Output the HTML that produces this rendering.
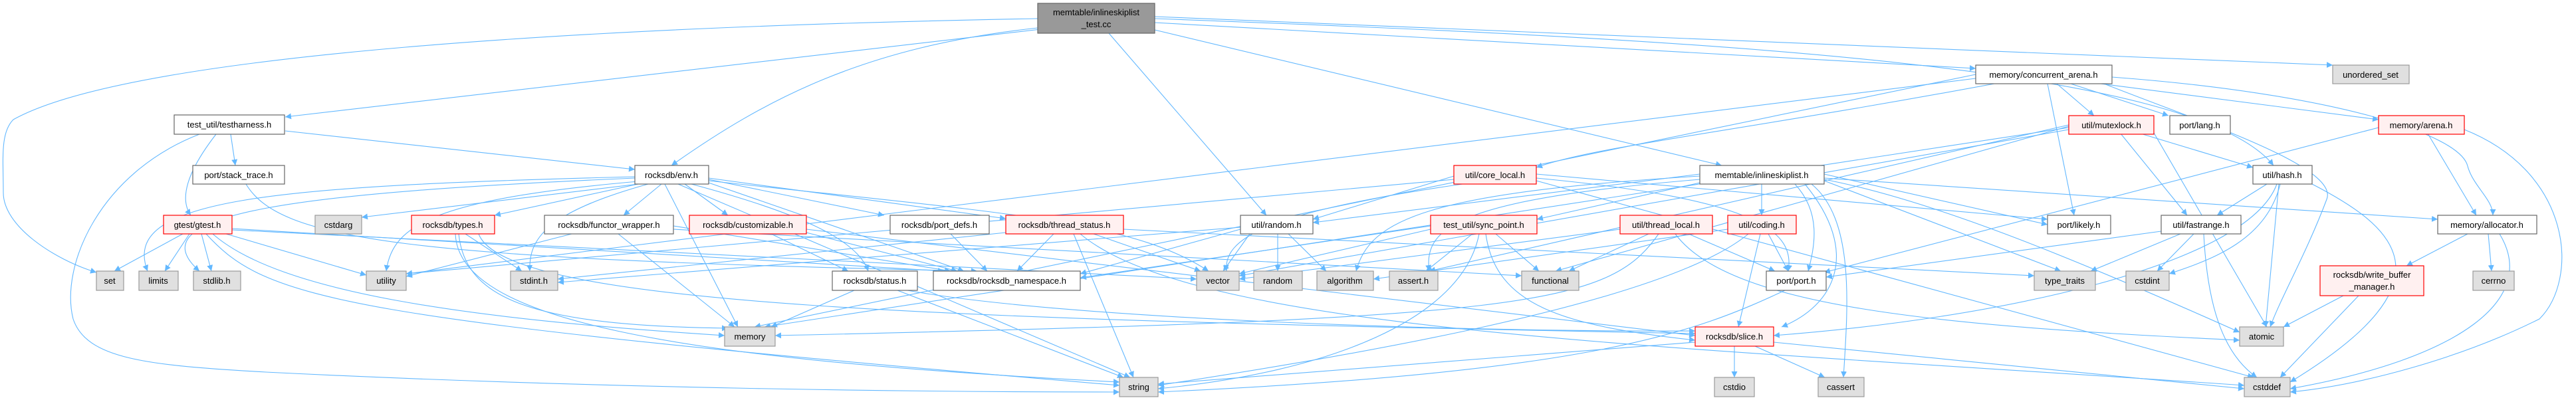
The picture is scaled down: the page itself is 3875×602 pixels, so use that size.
<!DOCTYPE html>
<html><head><meta charset="utf-8"><style>
html,body{margin:0;padding:0;background:#fff;}
svg{display:block;}
text{font-family:"Liberation Sans",sans-serif;font-size:13px;fill:#000;text-anchor:middle;}
.w{fill:#fff;stroke:#666;stroke-width:1.2;}
.g{fill:#e0e0e0;stroke:#999;stroke-width:1.2;}
.r{fill:#fff0f0;stroke:#f00;stroke-width:1.2;}
.m{fill:#999;stroke:#666;stroke-width:1.2;}
.e line,.e path{stroke:#63b8ff;stroke-width:1.1;fill:none;}
</style></head><body>
<svg width="3875" height="602" viewBox="0 0 3875 602" xmlns="http://www.w3.org/2000/svg">
<defs><marker id="a" viewBox="0 0 10 10" refX="10" refY="5" markerWidth="9" markerHeight="9" orient="auto" markerUnits="userSpaceOnUse"><path d="M0,0 L10,5 L0,10 z" fill="#63b8ff"/></marker></defs>
<g class="e">
<!-- main -->
<line x1="1600" y1="40" x2="429" y2="176" marker-end="url(#a)"/>
<path d="M1561,42 C1300,70 1150,150 1010,249" marker-end="url(#a)"/>
<line x1="1668" y1="50" x2="1905" y2="324" marker-end="url(#a)"/>
<line x1="1737" y1="45" x2="2590" y2="249" marker-end="url(#a)"/>
<line x1="1737" y1="34" x2="2972" y2="103" marker-end="url(#a)"/>
<path d="M1737,28 C2600,60 3300,100 3420,249" marker-end="url(#a)"/>
<line x1="1737" y1="25" x2="3509" y2="98" marker-end="url(#a)"/>
<path d="M1561,28 C900,40 200,80 20,180 C0,200 5,240 5,290 C5,340 80,390 145,410" marker-end="url(#a)"/>
<!-- testharness -->
<path d="M325,202 C280,260 270,300 287,324" marker-end="url(#a)"/>
<line x1="347" y1="202" x2="354" y2="249" marker-end="url(#a)"/>
<line x1="429" y1="197" x2="955" y2="255" marker-end="url(#a)"/>
<path d="M300,202 C150,260 90,400 110,480 C130,540 220,550 400,560 C900,585 1400,590 1684,590" marker-end="url(#a)"/>
<!-- stack_trace -->
<path d="M370,277 C420,360 600,390 1470,408" marker-end="url(#a)"/>
<!-- env -->
<line x1="960" y1="277" x2="544" y2="327" marker-end="url(#a)"/>
<line x1="960" y1="277" x2="744" y2="324" marker-end="url(#a)"/>
<line x1="995" y1="277" x2="938" y2="324" marker-end="url(#a)"/>
<line x1="1030" y1="277" x2="1095" y2="324" marker-end="url(#a)"/>
<line x1="1066" y1="270" x2="1330" y2="324" marker-end="url(#a)"/>
<line x1="1066" y1="268" x2="1513" y2="329" marker-end="url(#a)"/>
<path d="M1040,277 C1200,320 1290,360 1306,408" marker-end="url(#a)"/>
<path d="M1066,272 C1500,320 1700,330 1818,408" marker-end="url(#a)"/>
<path d="M975,277 C820,320 795,360 797,408" marker-end="url(#a)"/>
<path d="M960,273 C650,300 590,340 581,408" marker-end="url(#a)"/>
<path d="M955,266 C400,280 180,300 222,408" marker-end="url(#a)"/>
<path d="M955,268 C450,290 200,320 300,408" marker-end="url(#a)"/>
<line x1="1000" y1="277" x2="1110" y2="492" marker-end="url(#a)"/>
<line x1="1020" y1="277" x2="1700" y2="568" marker-end="url(#a)"/>
<line x1="1066" y1="275" x2="1450" y2="408" marker-end="url(#a)"/>
<!-- gtest -->
<line x1="275" y1="352" x2="172" y2="408" marker-end="url(#a)"/>
<line x1="285" y1="352" x2="248" y2="408" marker-end="url(#a)"/>
<line x1="303" y1="352" x2="318" y2="408" marker-end="url(#a)"/>
<line x1="340" y1="352" x2="551" y2="414" marker-end="url(#a)"/>
<path d="M320,352 C420,440 700,480 1090,505" marker-end="url(#a)"/>
<path d="M310,352 C400,450 500,480 1684,580" marker-end="url(#a)"/>
<line x1="349" y1="346" x2="1800" y2="420" marker-end="url(#a)"/>
<line x1="349" y1="344" x2="1420" y2="408" marker-end="url(#a)"/>
<!-- types -->
<line x1="700" y1="352" x2="785" y2="408" marker-end="url(#a)"/>
<path d="M690,352 C700,450 800,490 1095,494" marker-end="url(#a)"/>
<path d="M720,352 C760,460 1400,480 2550,502" marker-end="url(#a)"/>
<path d="M685,352 C690,480 1000,540 1684,575" marker-end="url(#a)"/>
<!-- functor -->
<line x1="860" y1="352" x2="611" y2="416" marker-end="url(#a)"/>
<line x1="930" y1="352" x2="1105" y2="492" marker-end="url(#a)"/>
<line x1="1013" y1="345" x2="2289" y2="415" marker-end="url(#a)"/>
<line x1="1013" y1="340" x2="1430" y2="408" marker-end="url(#a)"/>
<!-- customizable -->
<line x1="1160" y1="352" x2="1276" y2="408" marker-end="url(#a)"/>
<line x1="1213" y1="350" x2="1440" y2="408" marker-end="url(#a)"/>
<line x1="1213" y1="345" x2="2550" y2="505" marker-end="url(#a)"/>
<!-- port_defs -->
<line x1="1430" y1="352" x2="1485" y2="408" marker-end="url(#a)"/>
<!-- thread_status -->
<line x1="1585" y1="352" x2="1530" y2="408" marker-end="url(#a)"/>
<line x1="1645" y1="352" x2="1806" y2="408" marker-end="url(#a)"/>
<line x1="1615" y1="352" x2="1705" y2="568" marker-end="url(#a)"/>
<path d="M1625,352 C1800,500 2500,520 3376,580" marker-end="url(#a)"/>
<line x1="1513" y1="350" x2="839" y2="420" marker-end="url(#a)"/>
<line x1="1690" y1="345" x2="3060" y2="415" marker-end="url(#a)"/>
<!-- status -->
<line x1="1285" y1="437" x2="1160" y2="492" marker-end="url(#a)"/>
<line x1="1350" y1="437" x2="1690" y2="568" marker-end="url(#a)"/>
<path d="M1365,437 C1600,480 2200,500 2550,498" marker-end="url(#a)"/>
<!-- random.h -->
<line x1="1880" y1="352" x2="1840" y2="408" marker-end="url(#a)"/>
<line x1="1922" y1="352" x2="1922" y2="408" marker-end="url(#a)"/>
<line x1="1938" y1="352" x2="1995" y2="408" marker-end="url(#a)"/>
<line x1="1866" y1="345" x2="1625" y2="412" marker-end="url(#a)"/>
<line x1="1866" y1="342" x2="839" y2="425" marker-end="url(#a)"/>
<!-- core_local -->
<path d="M2200,277 C1900,320 1840,360 1845,408" marker-end="url(#a)"/>
<line x1="2187" y1="270" x2="611" y2="412" marker-end="url(#a)"/>
<path d="M2311,268 C2650,300 2700,350 2690,408" marker-end="url(#a)"/>
<line x1="2187" y1="265" x2="1975" y2="330" marker-end="url(#a)"/>
<line x1="2311" y1="272" x2="3390" y2="568" marker-end="url(#a)"/>
<line x1="2311" y1="262" x2="3080" y2="330" marker-end="url(#a)"/>
<!-- inlineskiplist -->
<line x1="2650" y1="277" x2="2650" y2="324" marker-end="url(#a)"/>
<path d="M2700,277 C2740,320 2730,370 2720,408" marker-end="url(#a)"/>
<path d="M2715,277 C2800,380 2760,460 2680,492" marker-end="url(#a)"/>
<path d="M2557,270 C2200,300 2140,340 2150,408" marker-end="url(#a)"/>
<path d="M2557,265 C2150,290 2060,330 2040,408" marker-end="url(#a)"/>
<path d="M2744,270 C2900,300 3100,380 3369,500" marker-end="url(#a)"/>
<line x1="2744" y1="268" x2="3667" y2="330" marker-end="url(#a)"/>
<line x1="2744" y1="262" x2="3080" y2="338" marker-end="url(#a)"/>
<line x1="2744" y1="272" x2="3100" y2="408" marker-end="url(#a)"/>
<path d="M2725,277 C2790,330 2780,460 2773,568" marker-end="url(#a)"/>
<line x1="2557" y1="262" x2="1975" y2="335" marker-end="url(#a)"/>
<line x1="2557" y1="275" x2="2312" y2="330" marker-end="url(#a)"/>
<!-- sync_point -->
<line x1="2215" y1="352" x2="2145" y2="408" marker-end="url(#a)"/>
<line x1="2250" y1="352" x2="2315" y2="408" marker-end="url(#a)"/>
<path d="M2225,352 C2200,480 2000,560 1742,585" marker-end="url(#a)"/>
<line x1="2152" y1="345" x2="1864" y2="412" marker-end="url(#a)"/>
<path d="M2235,352 C2250,460 2350,490 2550,512" marker-end="url(#a)"/>
<line x1="2152" y1="340" x2="1625" y2="418" marker-end="url(#a)"/>
<!-- thread_local -->
<line x1="2480" y1="352" x2="2360" y2="408" marker-end="url(#a)"/>
<line x1="2540" y1="352" x2="2670" y2="408" marker-end="url(#a)"/>
<path d="M2520,352 C2600,460 2900,490 3369,512" marker-end="url(#a)"/>
<path d="M2495,352 C2420,460 2300,480 1166,505" marker-end="url(#a)"/>
<line x1="2437" y1="345" x2="1864" y2="420" marker-end="url(#a)"/>
<!-- coding -->
<line x1="2660" y1="352" x2="2690" y2="408" marker-end="url(#a)"/>
<line x1="2648" y1="352" x2="2615" y2="492" marker-end="url(#a)"/>
<path d="M2630,352 C2500,460 2000,540 1742,580" marker-end="url(#a)"/>
<line x1="2599" y1="345" x2="2066" y2="420" marker-end="url(#a)"/>
<!-- port -->
<path d="M2685,437 C2550,500 2400,560 1742,590" marker-end="url(#a)"/>
<!-- slice -->
<line x1="2609" y1="521" x2="2609" y2="568" marker-end="url(#a)"/>
<line x1="2640" y1="521" x2="2745" y2="568" marker-end="url(#a)"/>
<line x1="2550" y1="515" x2="1742" y2="578" marker-end="url(#a)"/>
<line x1="2668" y1="515" x2="3376" y2="585" marker-end="url(#a)"/>
<!-- concurrent_arena -->
<line x1="3094" y1="126" x2="3150" y2="174" marker-end="url(#a)"/>
<line x1="3115" y1="126" x2="3262" y2="174" marker-end="url(#a)"/>
<line x1="3160" y1="126" x2="3578" y2="180" marker-end="url(#a)"/>
<line x1="3080" y1="126" x2="3120" y2="324" marker-end="url(#a)"/>
<path d="M3177,116 C3500,140 3700,200 3712,250 C3720,280 3750,300 3750,324" marker-end="url(#a)"/>
<path d="M3165,126 C3300,180 3520,250 3500,300 C3470,380 3430,450 3415,492" marker-end="url(#a)"/>
<line x1="2972" y1="112" x2="1135" y2="492" marker-end="url(#a)"/>
<line x1="2972" y1="118" x2="611" y2="412" marker-end="url(#a)"/>
<path d="M3000,126 C2600,200 2400,220 2311,252" marker-end="url(#a)"/>
<!-- mutexlock -->
<line x1="3220" y1="201" x2="3389" y2="252" marker-end="url(#a)"/>
<line x1="3190" y1="201" x2="3290" y2="324" marker-end="url(#a)"/>
<line x1="3240" y1="200" x2="3410" y2="492" marker-end="url(#a)"/>
<line x1="3112" y1="190" x2="2340" y2="408" marker-end="url(#a)"/>
<line x1="3112" y1="192" x2="1150" y2="492" marker-end="url(#a)"/>
<line x1="3112" y1="188" x2="2150" y2="408" marker-end="url(#a)"/>
<line x1="3112" y1="195" x2="1864" y2="415" marker-end="url(#a)"/>
<!-- hash -->
<line x1="3410" y1="277" x2="3335" y2="324" marker-end="url(#a)"/>
<path d="M3430,277 C3410,360 3330,390 3263,412" marker-end="url(#a)"/>
<path d="M3478,277 C3600,340 3700,420 3445,575" marker-end="url(#a)"/>
<path d="M3425,277 C3380,400 3000,480 2668,505" marker-end="url(#a)"/>
<line x1="3428" y1="277" x2="3408" y2="492" marker-end="url(#a)"/>
<!-- fastrange -->
<line x1="3280" y1="352" x2="3145" y2="408" marker-end="url(#a)"/>
<line x1="3300" y1="352" x2="3245" y2="408" marker-end="url(#a)"/>
<path d="M3315,352 C3320,450 3340,530 3395,568" marker-end="url(#a)"/>
<line x1="3251" y1="348" x2="2747" y2="417" marker-end="url(#a)"/>
<!-- arena -->
<line x1="3652" y1="201" x2="3725" y2="324" marker-end="url(#a)"/>
<path d="M3707,195 C3870,260 3880,420 3820,480 C3700,540 3550,580 3445,590" marker-end="url(#a)"/>
<line x1="3578" y1="192" x2="2744" y2="410" marker-end="url(#a)"/>
<!-- allocator -->
<line x1="3712" y1="352" x2="3620" y2="400" marker-end="url(#a)"/>
<line x1="3743" y1="352" x2="3748" y2="408" marker-end="url(#a)"/>
<path d="M3760,352 C3820,450 3700,540 3445,585" marker-end="url(#a)"/>
<!-- wbm -->
<line x1="3525" y1="445" x2="3435" y2="492" marker-end="url(#a)"/>
<line x1="3548" y1="445" x2="3430" y2="568" marker-end="url(#a)"/>
</g>

<!-- nodes -->
<rect class="m" x="1561" y="5" width="176" height="45"/><text x="1649" y="23">memtable/inlineskiplist</text><text x="1649" y="41">_test.cc</text>

<rect class="w" x="2972" y="98" width="205" height="28"/><text x="3074" y="117">memory/concurrent_arena.h</text>
<rect class="g" x="3509" y="98" width="115" height="28"/><text x="3566" y="117">unordered_set</text>

<rect class="w" x="262" y="173" width="166" height="29"/><text x="345" y="192">test_util/testharness.h</text>
<rect class="r" x="3112" y="174" width="128" height="28"/><text x="3176" y="193">util/mutexlock.h</text>
<rect class="w" x="3264" y="174" width="91" height="28"/><text x="3309" y="193">port/lang.h</text>
<rect class="r" x="3578" y="174" width="129" height="28"/><text x="3642" y="193">memory/arena.h</text>

<rect class="w" x="290" y="249" width="138" height="28"/><text x="359" y="268">port/stack_trace.h</text>
<rect class="w" x="955" y="249" width="111" height="28"/><text x="1010" y="268">rocksdb/env.h</text>
<rect class="r" x="2187" y="249" width="124" height="28"/><text x="2249" y="268">util/core_local.h</text>
<rect class="w" x="2557" y="249" width="187" height="28"/><text x="2650" y="268">memtable/inlineskiplist.h</text>
<rect class="w" x="3389" y="249" width="89" height="28"/><text x="3433" y="268">util/hash.h</text>

<rect class="r" x="246" y="324" width="103" height="28"/><text x="297" y="343">gtest/gtest.h</text>
<rect class="g" x="474" y="324" width="70" height="28"/><text x="509" y="343">cstdarg</text>
<rect class="r" x="619" y="324" width="125" height="28"/><text x="681" y="343">rocksdb/types.h</text>
<rect class="w" x="819" y="324" width="194" height="28"/><text x="916" y="343">rocksdb/functor_wrapper.h</text>
<rect class="r" x="1037" y="324" width="176" height="28"/><text x="1125" y="343">rocksdb/customizable.h</text>
<rect class="w" x="1339" y="324" width="149" height="28"/><text x="1413" y="343">rocksdb/port_defs.h</text>
<rect class="r" x="1513" y="324" width="177" height="28"/><text x="1601" y="343">rocksdb/thread_status.h</text>
<rect class="w" x="1866" y="324" width="109" height="28"/><text x="1920" y="343">util/random.h</text>
<rect class="r" x="2152" y="324" width="160" height="28"/><text x="2232" y="343">test_util/sync_point.h</text>
<rect class="r" x="2437" y="324" width="139" height="28"/><text x="2506" y="343">util/thread_local.h</text>
<rect class="r" x="2599" y="324" width="103" height="28"/><text x="2650" y="343">util/coding.h</text>
<rect class="w" x="3080" y="324" width="95" height="28"/><text x="3127" y="343">port/likely.h</text>
<rect class="w" x="3251" y="324" width="120" height="28"/><text x="3311" y="343">util/fastrange.h</text>
<rect class="w" x="3667" y="324" width="149" height="28"/><text x="3741" y="343">memory/allocator.h</text>

<rect class="g" x="145" y="408" width="41" height="29"/><text x="165" y="427">set</text>
<rect class="g" x="209" y="408" width="59" height="29"/><text x="238" y="427">limits</text>
<rect class="g" x="291" y="408" width="71" height="29"/><text x="326" y="427">stdlib.h</text>
<rect class="g" x="551" y="408" width="60" height="29"/><text x="581" y="427">utility</text>
<rect class="g" x="768" y="408" width="71" height="29"/><text x="803" y="427">stdint.h</text>
<rect class="w" x="1252" y="408" width="128" height="29"/><text x="1316" y="427">rocksdb/status.h</text>
<rect class="w" x="1404" y="408" width="221" height="29"/><text x="1514" y="427">rocksdb/rocksdb_namespace.h</text>
<rect class="g" x="1800" y="408" width="64" height="29"/><text x="1832" y="427">vector</text>
<rect class="g" x="1886" y="408" width="73" height="29"/><text x="1922" y="427">random</text>
<rect class="g" x="1981" y="408" width="85" height="29"/><text x="2023" y="427">algorithm</text>
<rect class="g" x="2090" y="408" width="73" height="29"/><text x="2126" y="427">assert.h</text>
<rect class="g" x="2289" y="408" width="86" height="29"/><text x="2332" y="427">functional</text>
<rect class="w" x="2657" y="408" width="90" height="29"/><text x="2702" y="427">port/port.h</text>
<rect class="g" x="3060" y="408" width="92" height="29"/><text x="3106" y="427">type_traits</text>
<rect class="g" x="3198" y="408" width="65" height="29"/><text x="3230" y="427">cstdint</text>
<rect class="r" x="3490" y="400" width="156" height="45"/><text x="3568" y="418">rocksdb/write_buffer</text><text x="3568" y="436">_manager.h</text>
<rect class="g" x="3720" y="408" width="62" height="29"/><text x="3751" y="427">cerrno</text>

<rect class="g" x="1090" y="492" width="76" height="29"/><text x="1128" y="511">memory</text>
<rect class="r" x="2550" y="492" width="118" height="29"/><text x="2609" y="511">rocksdb/slice.h</text>
<rect class="g" x="3369" y="492" width="66" height="29"/><text x="3402" y="511">atomic</text>

<rect class="g" x="1684" y="568" width="58" height="29"/><text x="1713" y="587">string</text>
<rect class="g" x="2579" y="568" width="60" height="29"/><text x="2609" y="587">cstdio</text>
<rect class="g" x="2735" y="568" width="69" height="29"/><text x="2769" y="587">cassert</text>
<rect class="g" x="3376" y="568" width="69" height="29"/><text x="3410" y="587">cstddef</text>
</svg>
</body></html>
